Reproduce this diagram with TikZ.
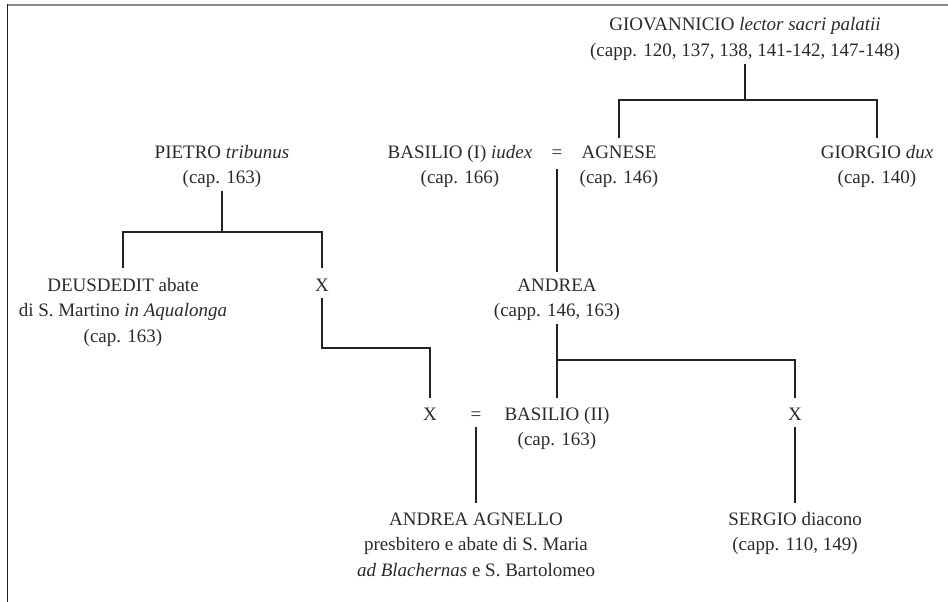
\documentclass[tikz,border=0pt]{standalone}
\usepackage{fontspec}
\setmainfont{Liberation Serif}
\definecolor{txt}{HTML}{2A2A2A}
\definecolor{ln}{HTML}{222222}
\definecolor{frametop}{HTML}{8A8A8A}
\begin{document}
\begin{tikzpicture}[x=1pt,y=-1pt,
  person/.style={align=center, anchor=base, inner sep=3pt,
    font=\fontsize{19}{25.5}\selectfont, text=txt},
  sym/.style={anchor=base, inner sep=3pt, font=\fontsize{19}{25.5}\selectfont,
    text=txt, text height=13pt, text depth=4pt},
  conn/.style={draw=ln, line width=1.3pt},
]
\useasboundingbox (0,0) rectangle (948,602);
% frame
\draw[frametop, line width=2pt] (6.5,5.5) -- (948,5.5);
\draw[ln, line width=1.5pt] (7.3,4.5) -- (7.3,602);

% levels of the bars
\coordinate (b1) at (0,100);
\coordinate (b2) at (0,232);
\coordinate (b3) at (0,348);
\coordinate (b4) at (0,360);

% persons (anchor = baseline of the last line)
\node[person] (gio) at (745,56.5) {GIOVANNICIO \textit{lector sacri palatii}\\(capp. 120, 137, 138, 141-142, 147-148)};
\node[person] (bas1) at (460,183.5) {BASILIO (I) \textit{iudex}\\(cap. 166)};
\node[sym] (eq1) at (557,158) {=};
\node[person] (agn) at (619,183.5) {AGNESE\\(cap. 146)};
\node[person] (gior) at (877,183.5) {GIORGIO \textit{dux}\\(cap. 140)};
\node[person] (pie) at (222,183.5) {PIETRO \textit{tribunus}\\(cap. 163)};
\node[person] (deus) at (123,342) {DEUSDEDIT abate\\di S. Martino \textit{in Aqualonga}\\(cap. 163)};
\node[sym] (xa) at (322,291) {X};
\node[person] (andr) at (557,316.5) {ANDREA\\(capp. 146, 163)};
\node[sym] (xb) at (430,420) {X};
\node[sym] (eq2) at (476,420) {=};
\node[person] (bas2) at (557,445.5) {BASILIO (II)\\(cap. 163)};
\node[sym] (xr) at (795,420) {X};
\node[person] (aa) at (476,576) {ANDREA AGNELLO\\presbitero e abate di S. Maria\\\textit{ad Blachernas} e S. Bartolomeo};
\node[person] (serg) at (795,550.5) {SERGIO diacono\\(capp. 110, 149)};

% connectors
\draw[conn] (gio.south) -- (gio.south |- b1);
\draw[conn, shorten <=4pt, shorten >=4pt] (agn.north) |- (gior.north |- b1) -- (gior.north);
\draw[conn] (pie.south) -- (pie.south |- b2);
\draw[conn, shorten <=7pt, shorten >=7pt] (deus.north) |- (xa.north |- b2) -- (xa.north);
\draw[conn, shorten >=6pt] (xa.south) -- (xa.south |- b3) -| (xb.north);
\draw[conn, shorten <=4pt, shorten >=3pt] (eq1.south) -- (andr.north);
\draw[conn, shorten >=6pt] (andr.south) -- (bas2.north);
\draw[conn, shorten >=6pt] (andr.south |- b4) -| (xr.north);
\draw[conn, shorten >=6pt] (eq2.south) -- (aa.north);
\draw[conn, shorten >=6pt] (xr.south) -- (serg.north);
\end{tikzpicture}
\end{document}
